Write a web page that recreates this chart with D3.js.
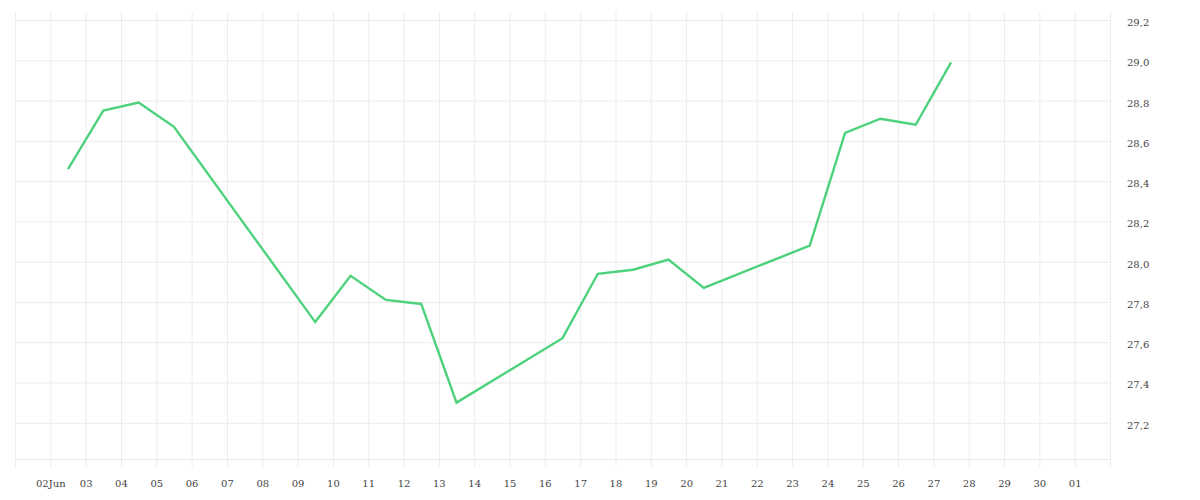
<!DOCTYPE html>
<html>
<head>
<meta charset="utf-8">
<script src="https://cdn.jsdelivr.net/npm/d3@7"></script>
<style>
  html, body { margin: 0; padding: 0; background: #ffffff; }
  svg { display: block; }
  .tick text { font-family: "DejaVu Serif", serif; font-size: 10px; fill: #444; }
</style>
</head>
<body>
<svg id="chart" width="1200" height="500"></svg>
<script>
// ---- data ----
const dates = [
  "2023-06-02T12:00", "2023-06-03T12:00", "2023-06-04T12:00", "2023-06-05T12:00",
  "2023-06-09T12:00", "2023-06-10T12:00", "2023-06-11T12:00", "2023-06-12T12:00",
  "2023-06-13T12:00", "2023-06-16T12:00", "2023-06-17T12:00", "2023-06-18T12:00",
  "2023-06-19T12:00", "2023-06-20T12:00", "2023-06-23T12:00", "2023-06-24T12:00",
  "2023-06-25T12:00", "2023-06-26T12:00", "2023-06-27T12:00"
];
const values = [
  28.46, 28.75, 28.79, 28.67,
  27.70, 27.93, 27.81, 27.79,
  27.30, 27.62, 27.94, 27.96,
  28.01, 27.87, 28.08, 28.64,
  28.71, 28.68, 28.99
];
const xTickLabels = [
  "", "02Jun", "03", "04", "05", "06", "07", "08", "09", "10", "11", "12", "13",
  "14", "15", "16", "17", "18", "19", "20", "21", "22", "23", "24", "25", "26",
  "27", "28", "29", "30", "01", ""
];
const yTickValues = [27.2, 27.4, 27.6, 27.8, 28.0, 28.2, 28.4, 28.6, 28.8, 29.0, 29.2];
const yTickLabels = ["27,2", "27,4", "27,6", "27,8", "28,0", "28,2", "28,4", "28,6", "28,8", "29,0", "29,2"];
const xStart = "2023-06-01T00:00";
const xEnd = "2023-07-02T00:00";
const yDomain = [27.02, 29.24];

// ---- layout ----
const pLeft = 15, pRight = 1110, pTop = 12, pBottom = 459, tickExtra = 8;
const parse = d3.timeParse("%Y-%m-%dT%H:%M");
const svg = d3.select("#chart");

const x = d3.scaleTime().domain([parse(xStart), parse(xEnd)]).range([pLeft, pRight]);
const y = d3.scaleLinear().domain(yDomain).range([pBottom, pTop]);

const tickDates = d3.timeDay.range(parse(xStart), d3.timeDay.offset(parse(xEnd), 1));
const labelOf = new Map(tickDates.map((d, i) => [+d, xTickLabels[i]]));

// horizontal grid lines (y axis on right)
const yAxis = d3.axisRight(y)
  .tickValues(yTickValues)
  .tickSize(-(pRight - pLeft))
  .tickPadding(17)
  .tickFormat((d, i) => yTickLabels[i]);
const gy = svg.append("g").attr("transform", `translate(${pRight},0)`).call(yAxis);
gy.select(".domain").remove();
gy.selectAll(".tick line").attr("stroke", "#ececec");
gy.selectAll(".tick text").attr("dy", "0.75em").attr("y", -2);

// bottom border of plot
svg.append("line")
  .attr("x1", pLeft).attr("x2", pRight)
  .attr("y1", pBottom + 0.5).attr("y2", pBottom + 0.5)
  .attr("stroke", "#ececec");

// vertical grid lines + x labels
const xAxis = d3.axisBottom(x)
  .tickValues(tickDates)
  .tickSize(-(pBottom + tickExtra - pTop))
  .tickPadding(13)
  .tickFormat(d => labelOf.get(+d));
const gx = svg.append("g").attr("transform", `translate(0,${pBottom + tickExtra})`).call(xAxis);
gx.select(".domain").remove();
gx.selectAll(".tick line").attr("stroke", "#ececec");

// right axis line
svg.append("line")
  .attr("x1", pRight + 0.5).attr("x2", pRight + 0.5)
  .attr("y1", pTop).attr("y2", pBottom + tickExtra)
  .attr("stroke", "#ececec");

// series line
const pts = dates.map((d, i) => ({ t: parse(d), v: values[i] }));
svg.append("path")
  .datum(pts)
  .attr("fill", "none")
  .attr("stroke", "#4dd27b")
  .attr("stroke-width", 2.4)
  .attr("stroke-linejoin", "miter")
  .attr("d", d3.line().x(d => x(d.t)).y(d => y(d.v)));
</script>
</body>
</html>
